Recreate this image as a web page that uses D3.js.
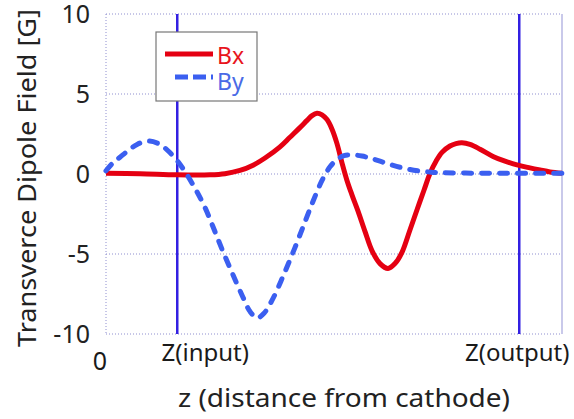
<!DOCTYPE html>
<html>
<head>
<meta charset="utf-8">
<script src="https://cdn.jsdelivr.net/npm/d3@7"></script>
<style>
  body { margin: 0; background: #fff; }
  text { font-family: "Noto Sans", "Open Sans", sans-serif; }
</style>
</head>
<body>
<div id="chart"></div>
<script>
// Data (z in arbitrary length units)
var bxZ = [0, 2.39, 4.98, 7.30, 8.35, 9.40, 10.32, 11.16, 12.21, 12.91, 13.61, 14.11, 14.46, 14.81, 15.16, 15.51, 15.86, 16.21, 16.56, 16.91, 17.26, 17.68, 18.18, 18.67, 19.23, 19.79, 20.28, 20.77, 21.33, 21.82, 22.32, 22.74, 23.16, 23.58, 24.14, 24.56, 24.98, 25.54, 26.25, 27.16, 28.00, 28.91, 29.75, 30.46, 31.16, 32.0];
var bxVal = [0.05, 0.02, -0.05, -0.05, 0.02, 0.22, 0.55, 1.0, 1.7, 2.3, 2.9, 3.35, 3.65, 3.8, 3.7, 3.4, 2.8, 1.9, 0.7, -0.4, -1.3, -2.3, -3.6, -4.8, -5.6, -5.9, -5.6, -4.9, -3.5, -2.25, -1.0, 0.05, 0.8, 1.35, 1.75, 1.9, 1.95, 1.85, 1.55, 1.1, 0.8, 0.55, 0.38, 0.25, 0.13, 0.05];

var byZ = [0, 0.49, 0.98, 1.68, 2.18, 2.95, 3.79, 4.35, 4.98, 5.54, 6.25, 6.95, 7.51, 8.14, 8.91, 9.61, 10.11, 10.60, 11.09, 11.65, 12.42, 13.26, 13.96, 14.53, 15.16, 15.72, 16.21, 16.70, 17.26, 17.96, 18.53, 19.23, 19.93, 20.63, 21.33, 22.04, 22.74, 23.44, 26.25, 29.05, 32.0];
var byVal = [0.2, 0.7, 1.05, 1.55, 1.85, 2.06, 1.85, 1.45, 0.85, 0.15, -0.9, -2.1, -3.3, -4.7, -6.3, -7.7, -8.6, -9.0, -8.7, -7.9, -6.4, -4.6, -3.0, -1.7, -0.4, 0.45, 0.9, 1.15, 1.2, 1.12, 1.0, 0.8, 0.6, 0.42, 0.28, 0.18, 0.12, 0.08, 0.05, 0.05, 0.05];

var yTicks = [-10, -5, 0, 5, 10];
var zInput = 5.0;
var zOutput = 29.0;
var xTickLabels = ["0", "Z(input)", "Z(output)"];
var seriesNames = ["Bx", "By"];

// Set the SVG and margin parameters
var svgWidth = 574;
var svgHeight = 419;

var margin = {
    top: 14,
    right: 12,
    bottom: 85,
    left: 106
};

var width = svgWidth - margin.left - margin.right;
var height = svgHeight - margin.top - margin.bottom;

var svg = d3.select("#chart")
  .append("svg")
  .attr("width", svgWidth)
  .attr("height", svgHeight);

var chartGroup = svg.append("g")
  .attr("transform", `translate(${margin.left}, ${margin.top})`);

// Scales
var xScale = d3.scaleLinear()
    .domain([0, 32])
    .range([0, width]);

var yScale = d3.scaleLinear()
    .domain([-10, 10])
    .range([height, 0]);

// Dotted grid lines
var gridColor = "#8f8fd0";
chartGroup.selectAll(".hgrid")
    .data(yTicks)
    .enter()
    .append("line")
    .attr("x1", 0)
    .attr("x2", width)
    .attr("y1", d => yScale(d))
    .attr("y2", d => yScale(d))
    .attr("stroke", gridColor)
    .attr("stroke-width", 1)
    .attr("stroke-dasharray", "1,2");

chartGroup.append("line")
    .attr("x1", 0).attr("x2", 0)
    .attr("y1", 0).attr("y2", height)
    .attr("stroke", gridColor)
    .attr("stroke-dasharray", "1,2");

chartGroup.append("line")
    .attr("x1", width).attr("x2", width)
    .attr("y1", 0).attr("y2", height)
    .attr("stroke", "#c9c9ea")
    .attr("stroke-width", 2);

// Input / output markers
chartGroup.selectAll(".marker")
    .data([zInput, zOutput])
    .enter()
    .append("line")
    .attr("x1", d => xScale(d))
    .attr("x2", d => xScale(d))
    .attr("y1", 0)
    .attr("y2", height)
    .attr("stroke", "#3320e2")
    .attr("stroke-width", 2.5);

// Y axis (labels only, plain hyphen for negatives)
var leftAxis = d3.axisLeft(yScale)
    .tickValues(yTicks)
    .tickFormat(d => String(d))
    .tickSize(0)
    .tickPadding(16);

var yAxis = chartGroup.append("g")
    .call(leftAxis);
yAxis.select(".domain").remove();
yAxis.selectAll("text")
    .attr("font-size", 25)
    .attr("fill", "#222")
    .attr("font-family", "Noto Sans, sans-serif");

// X axis labels
var xLabelData = [
    { z: 0, text: xTickLabels[0], dx: -6, size: 25, y: 370 },
    { z: zInput, text: xTickLabels[1], dx: 28, size: 24, y: 361 },
    { z: zOutput, text: xTickLabels[2], dx: -2, size: 24, y: 361 }
];
svg.selectAll(".xlab")
    .data(xLabelData)
    .enter()
    .append("text")
    .attr("x", d => margin.left + xScale(d.z) + d.dx)
    .attr("y", d => d.y)
    .attr("text-anchor", "middle")
    .attr("font-size", d => d.size)
    .attr("fill", "#1a1a1a")
    .text(d => d.text);

// Axis titles
svg.append("text")
    .attr("x", 344)
    .attr("y", 407)
    .attr("text-anchor", "middle")
    .attr("font-size", 26)
    .attr("textLength", 332)
    .attr("lengthAdjust", "spacingAndGlyphs")
    .attr("fill", "#222")
    .text("z (distance from cathode)");

svg.append("text")
    .attr("transform", `translate(36, 178) rotate(-90)`)
    .attr("text-anchor", "middle")
    .attr("font-size", 26)
    .attr("textLength", 338)
    .attr("lengthAdjust", "spacingAndGlyphs")
    .attr("fill", "#222")
    .text("Transverce Dipole Field [G]");

// Lines
var bxData = bxZ.map((z, i) => ({ z: z, v: bxVal[i] }));
var byData = byZ.map((z, i) => ({ z: z, v: byVal[i] }));

var lineGen = d3.line()
    .x(d => xScale(d.z))
    .y(d => yScale(d.v))
    .curve(d3.curveCatmullRom.alpha(0.5));

var red = "#e50012";
var blue = "#3b5ff0";

chartGroup.append("path")
    .datum(bxData)
    .attr("d", lineGen)
    .attr("fill", "none")
    .attr("stroke", red)
    .attr("stroke-width", 5)
    .attr("stroke-linejoin", "round");

chartGroup.append("path")
    .datum(byData)
    .attr("d", lineGen)
    .attr("fill", "none")
    .attr("stroke", blue)
    .attr("stroke-width", 5)
    .attr("stroke-dasharray", "8,10")
    .attr("stroke-linecap", "round");

// Legend
var legend = svg.append("g")
    .attr("transform", "translate(156, 32)");

legend.append("rect")
    .attr("width", 101)
    .attr("height", 69)
    .attr("fill", "#fff")
    .attr("stroke", "#777")
    .attr("stroke-width", 1.2);

legend.append("line")
    .attr("x1", 9).attr("x2", 57)
    .attr("y1", 22).attr("y2", 22)
    .attr("stroke", red)
    .attr("stroke-width", 5);

legend.append("line")
    .attr("x1", 19).attr("x2", 57)
    .attr("y1", 45).attr("y2", 45)
    .attr("stroke", blue)
    .attr("stroke-width", 5)
    .attr("stroke-dasharray", "13,5");

legend.append("text")
    .attr("x", 61)
    .attr("y", 32)
    .attr("font-size", 23)
    .attr("fill", "#e8141c")
    .text(seriesNames[0]);

legend.append("text")
    .attr("x", 61)
    .attr("y", 58)
    .attr("font-size", 23)
    .attr("fill", "#4a6ae6")
    .text(seriesNames[1]);
</script>
</body>
</html>
